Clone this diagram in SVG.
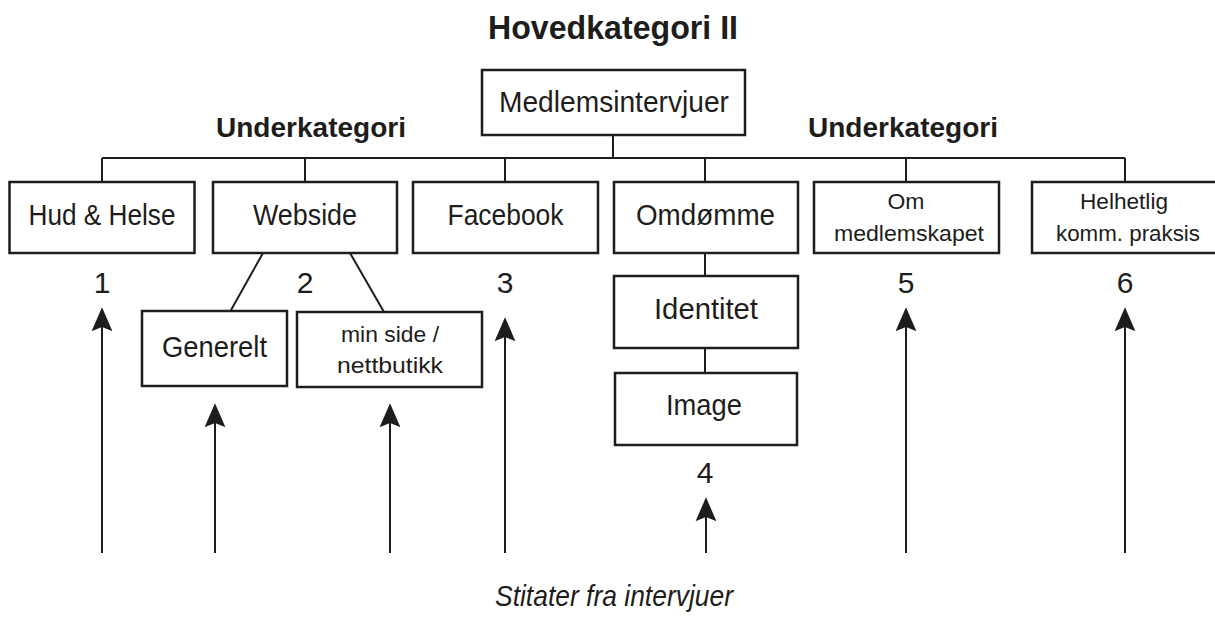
<svg xmlns="http://www.w3.org/2000/svg" width="1215" height="621" viewBox="0 0 1215 621">
<style>
  .box { fill: #ffffff; stroke: #1d1d1b; stroke-width: 2.5; }
  .ln { fill: none; stroke: #1d1d1b; stroke-width: 2; }
  .arr { fill: none; stroke: #1d1d1b; stroke-width: 2; marker-end: url(#ah); }
  .t { font-family: "Liberation Sans", Arial, sans-serif; fill: #1d1d1b; text-anchor: middle; }
  .big { font-size: 30px; }
  .sm { font-size: 22px; }
  .b { font-weight: bold; }
  .i { font-style: italic; }
</style>
<defs>
  <marker id="ah" markerUnits="userSpaceOnUse" markerWidth="24" markerHeight="22" viewBox="0 0 23 20" refX="5" refY="10" orient="auto">
    <path d="M0,0 L23,10 L0,20 L4,10 Z" fill="#1d1d1b"/>
  </marker>
</defs>
<rect width="1215" height="621" fill="#ffffff"/>

<text class="t b" x="613" y="39" font-size="33" textLength="250" lengthAdjust="spacingAndGlyphs">Hovedkategori II</text>
<text class="t b" x="311" y="137" font-size="27" textLength="190" lengthAdjust="spacingAndGlyphs">Underkategori</text>
<text class="t b" x="903" y="137" font-size="27" textLength="190" lengthAdjust="spacingAndGlyphs">Underkategori</text>

<g id="connectors">
  <path class="ln" d="M613,135 V158 M102,158 H1125 M102,158 V182 M305,158 V182 M505,158 V182 M705,158 V182 M906,158 V182 M1125,158 V182"/>
  <path class="ln" d="M263,253 L230.5,311 M350,253 L384,312"/>
  <path class="ln" d="M705,253 V276 M705,348 V373"/>
  <line class="arr" x1="102" y1="553" x2="102" y2="326"/>
  <line class="arr" x1="215" y1="553" x2="215" y2="422"/>
  <line class="arr" x1="390" y1="553" x2="390" y2="422"/>
  <line class="arr" x1="505" y1="553" x2="505" y2="336"/>
  <line class="arr" x1="706" y1="553" x2="706" y2="516"/>
  <line class="arr" x1="906" y1="553" x2="906" y2="326"/>
  <line class="arr" x1="1125" y1="553" x2="1125" y2="326"/>
</g>

<g id="medlemsintervjuer">
  <rect class="box" x="482" y="70" width="263" height="65"/>
  <text class="t big" x="614" y="112" textLength="230" lengthAdjust="spacingAndGlyphs">Medlemsintervjuer</text>
</g>
<g id="hud-helse">
  <rect class="box" x="9.5" y="182" width="185" height="71"/>
  <text class="t big" x="102" y="225" textLength="147" lengthAdjust="spacingAndGlyphs">Hud &amp; Helse</text>
  <text class="t big" x="102" y="293">1</text>
</g>
<g id="webside">
  <rect class="box" x="213" y="182" width="184" height="71"/>
  <text class="t big" x="305" y="225" textLength="104" lengthAdjust="spacingAndGlyphs">Webside</text>
  <text class="t big" x="305" y="293">2</text>
</g>
<g id="facebook">
  <rect class="box" x="413" y="182" width="185" height="71"/>
  <text class="t big" x="505.5" y="225" textLength="116" lengthAdjust="spacingAndGlyphs">Facebook</text>
  <text class="t big" x="505" y="293">3</text>
</g>
<g id="omdomme">
  <rect class="box" x="614" y="182" width="184" height="71"/>
  <text class="t big" x="705.5" y="225" textLength="139" lengthAdjust="spacingAndGlyphs">Omdømme</text>
</g>
<g id="om-medlemskapet">
  <rect class="box" x="814" y="182" width="185" height="71"/>
  <text class="t sm" x="906" y="209" textLength="37" lengthAdjust="spacingAndGlyphs">Om</text>
  <text class="t sm" x="909" y="241" textLength="150" lengthAdjust="spacingAndGlyphs">medlemskapet</text>
  <text class="t big" x="906" y="293">5</text>
</g>
<g id="helhetlig">
  <rect class="box" x="1032" y="182" width="190" height="71"/>
  <text class="t sm" x="1124" y="209" textLength="88" lengthAdjust="spacingAndGlyphs">Helhetlig</text>
  <text class="t sm" x="1128" y="241" textLength="144" lengthAdjust="spacingAndGlyphs">komm. praksis</text>
  <text class="t big" x="1125" y="293">6</text>
</g>
<g id="generelt">
  <rect class="box" x="142" y="311" width="145" height="75"/>
  <text class="t big" x="214.5" y="357" textLength="105" lengthAdjust="spacingAndGlyphs">Generelt</text>
</g>
<g id="min-side">
  <rect class="box" x="297" y="312" width="185" height="75"/>
  <text class="t sm" x="390" y="342" textLength="98" lengthAdjust="spacingAndGlyphs">min side /</text>
  <text class="t sm" x="390" y="373" textLength="106" lengthAdjust="spacingAndGlyphs">nettbutikk</text>
</g>
<g id="identitet">
  <rect class="box" x="614" y="276" width="184" height="72"/>
  <text class="t big" x="706" y="319" textLength="104" lengthAdjust="spacingAndGlyphs">Identitet</text>
</g>
<g id="image">
  <rect class="box" x="615" y="373" width="182" height="72"/>
  <text class="t big" x="704" y="415" textLength="76" lengthAdjust="spacingAndGlyphs">Image</text>
  <text class="t big" x="705" y="483">4</text>
</g>

<text class="t i" x="614" y="606" font-size="29" textLength="238" lengthAdjust="spacingAndGlyphs">Stitater fra intervjuer</text>
</svg>
